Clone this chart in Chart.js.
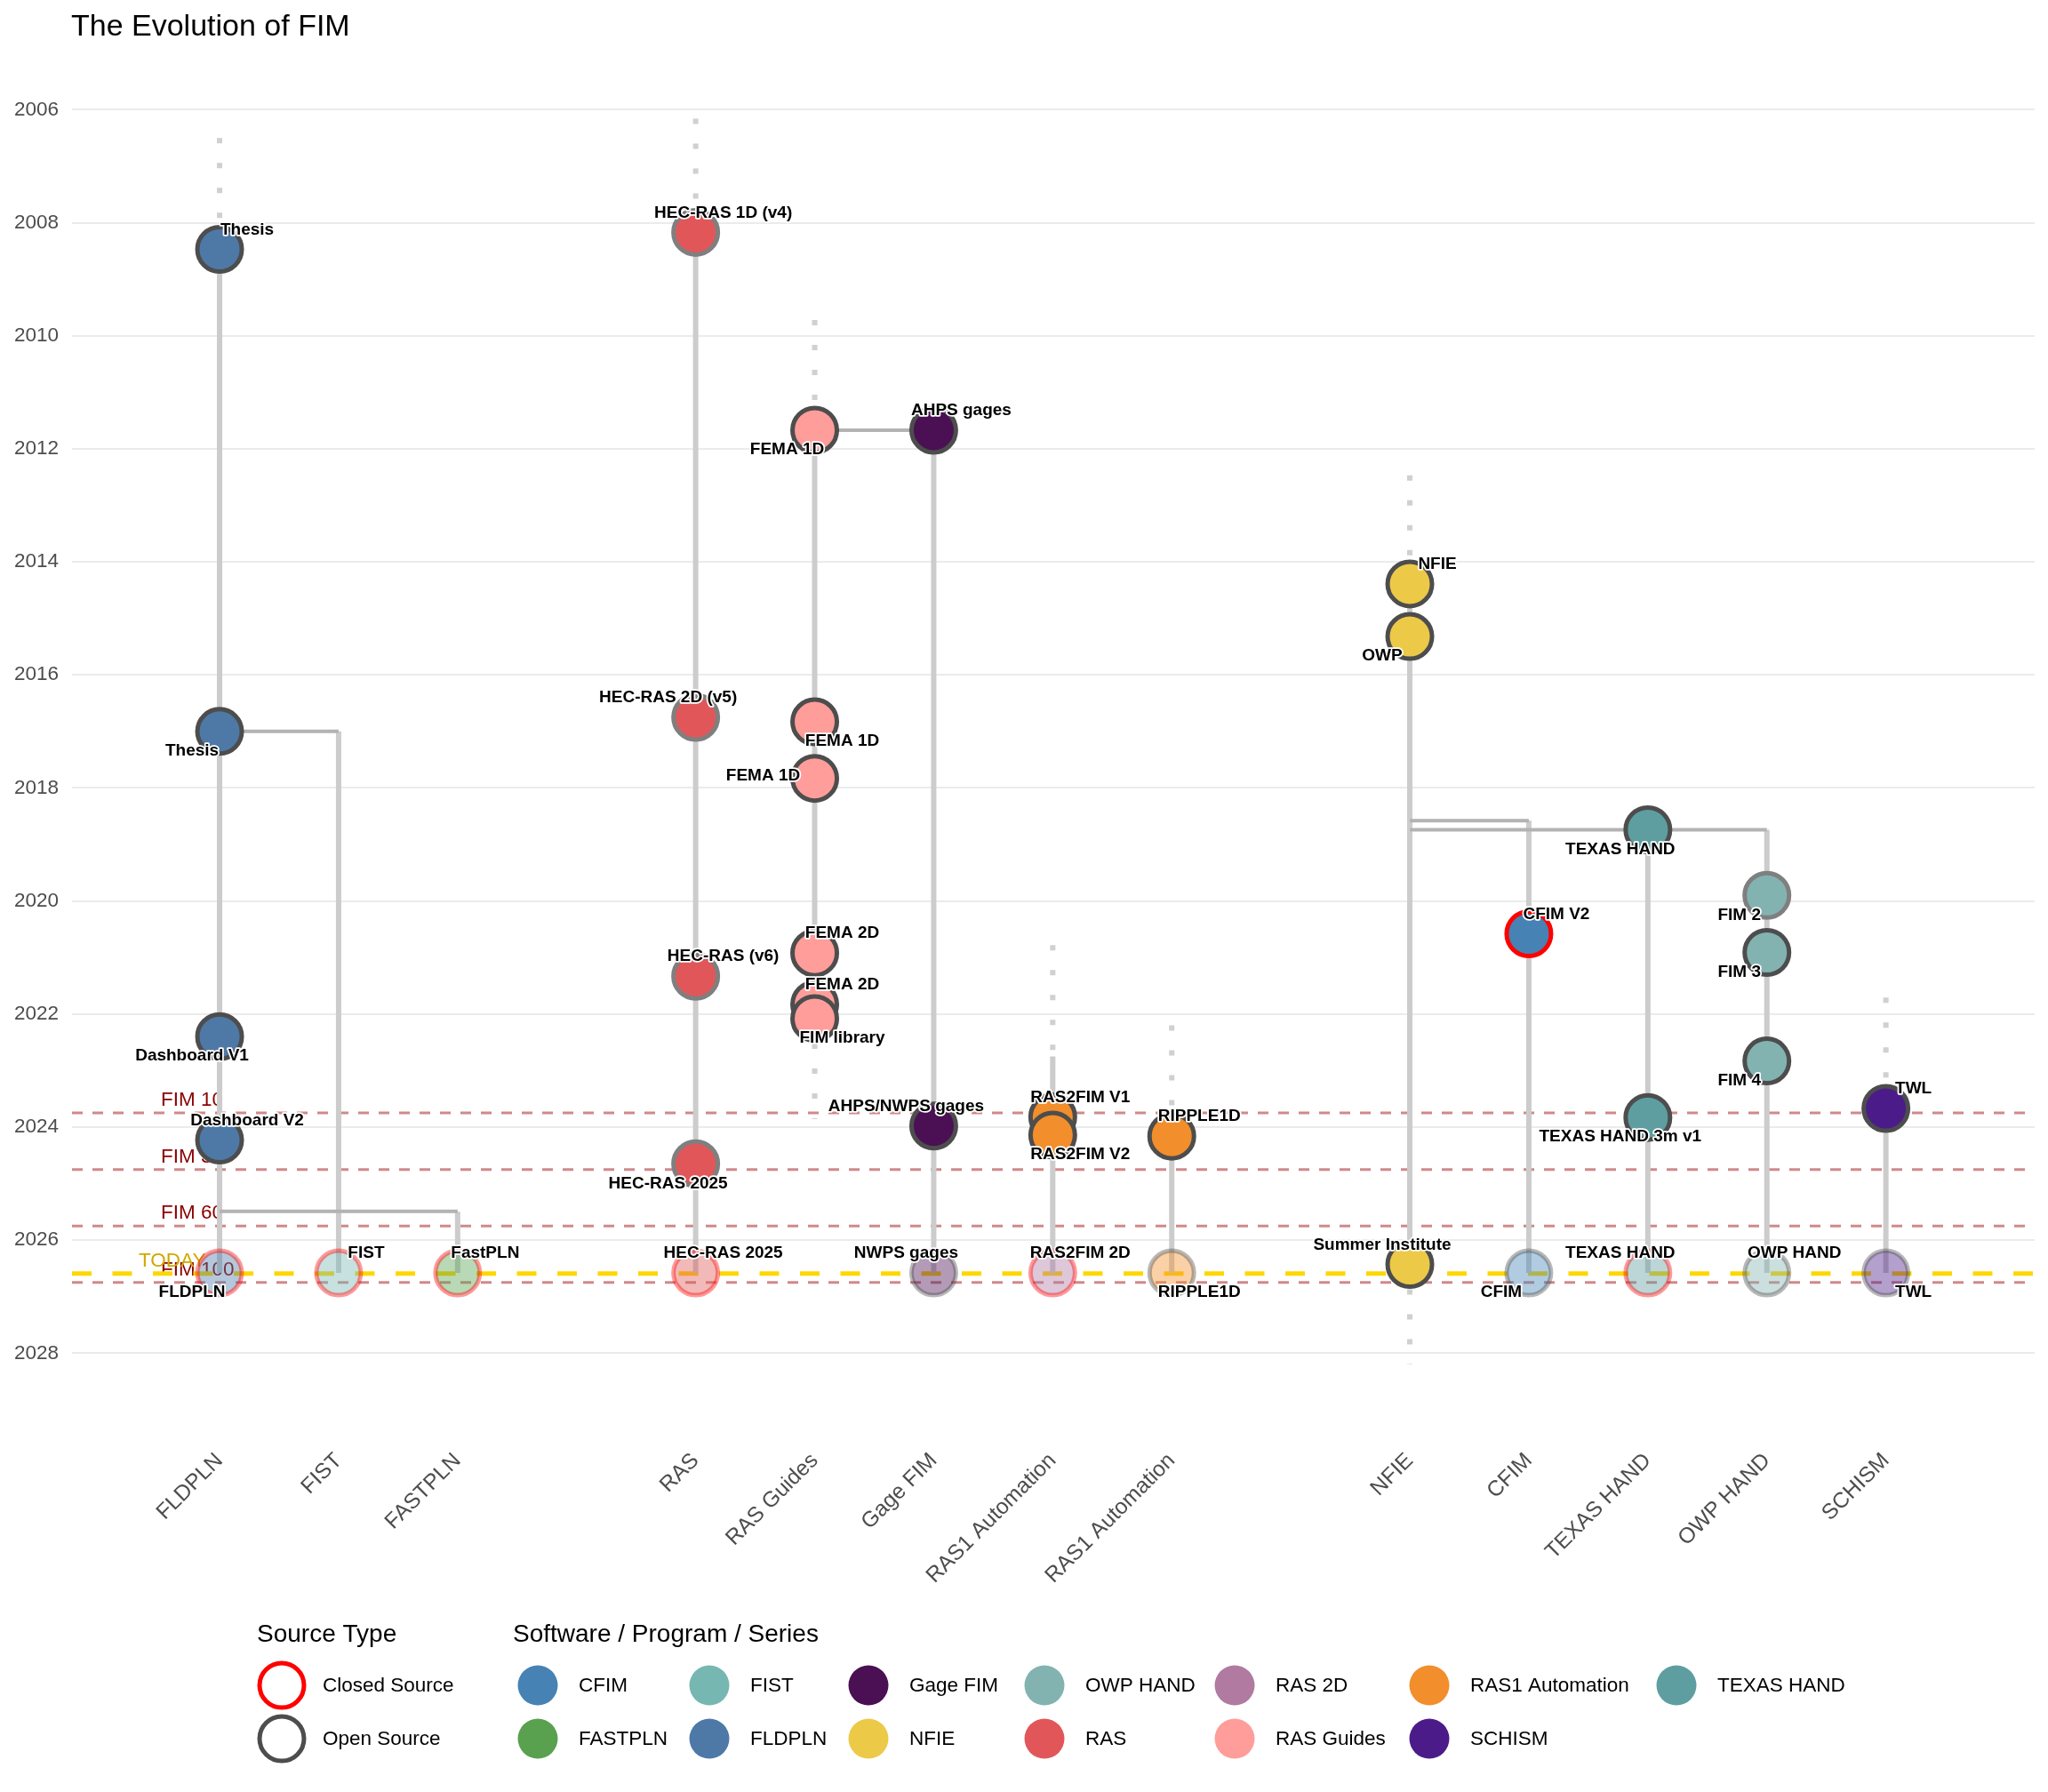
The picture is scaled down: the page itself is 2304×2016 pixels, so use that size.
<!DOCTYPE html>
<html>
<head>
<meta charset="utf-8">
<title>The Evolution of FIM</title>
<script src="https://cdn.jsdelivr.net/npm/chart.js@4.4.1/dist/chart.umd.min.js"></script>
<style>
  html, body { margin: 0; padding: 0; background: #ffffff; overflow: hidden; }
  #wrap { width: 2304px; height: 2016px; }
  canvas { display: block; }
</style>
</head>
<body>
<div id="wrap"><canvas id="fimChart" width="2304" height="2016"></canvas></div>
<script>
// ---- values ----
var TODAY = 2026.59;

// x axis: one column per program line (gaps between families)
var columns = ['FLDPLN', 'FIST', 'FASTPLN', 'RAS', 'RAS Guides', 'Gage FIM', 'RAS1 Automation',
               'RAS1 Automation', 'NFIE', 'CFIM', 'TEXAS HAND', 'OWP HAND', 'SCHISM'];
var columnPos = [1, 2, 3, 5, 6, 7, 8, 9, 11, 12, 13, 14, 15];
var yearTicks = [2006, 2008, 2010, 2012, 2014, 2016, 2018, 2020, 2022, 2024, 2026, 2028];

// solid "active" stretch of each column
var activeFrom = [2008.47, 2017.0, 2025.5, 2008.17, 2011.67, 2011.67, 2022.75, 2024.16, 2014.39, 2018.58, 2018.74, 2018.74, 2023.67];
var activeTo   = [2026.58, 2026.58, 2026.58, 2026.58, 2022.08, 2026.58, 2026.58, 2026.58, 2026.43, 2026.58, 2026.58, 2026.58, 2026.58];

// dotted stretches (before / after a column is active)
var dottedCol  = [0, 3, 4, 4, 6, 7, 8, 8, 12];
var dottedFrom = [2006.5, 2006.16, 2009.72, 2022.08, 2020.78, 2022.2, 2012.47, 2026.43, 2021.71];
var dottedTo   = [2008.47, 2008.17, 2011.67, 2023.86, 2022.75, 2024.16, 2014.39, 2028.2, 2023.67];

// branch connectors (column index -> column index, at a year)
var linkFrom = [0, 0, 4, 8, 8, 10];
var linkTo   = [1, 2, 5, 9, 10, 11];
var linkYear = [2017.0, 2025.49, 2011.67, 2018.58, 2018.74, 2018.74];

// FIM version milestones
var fimNames = ['FIM 10', 'FIM 30', 'FIM 60', 'FIM 100'];
var fimYears = [2023.75, 2024.75, 2025.75, 2026.75];

// events
var eventCol = [0, 0, 0, 0, 0,
                1, 2,
                3, 3, 3, 3, 3,
                4, 4, 4, 4, 4, 4,
                5, 5, 5,
                6, 6, 6,
                7, 7,
                8, 8, 8,
                9, 9,
                10, 10, 10,
                11, 11, 11, 11,
                12, 12];
var eventYear = [2008.47, 2017.0, 2022.4, 2024.23, 2026.58,
                 2026.58, 2026.58,
                 2008.17, 2016.75, 2021.33, 2024.65, 2026.58,
                 2011.67, 2016.83, 2017.83, 2020.92, 2021.83, 2022.08,
                 2011.67, 2023.98, 2026.58,
                 2023.82, 2024.14, 2026.58,
                 2024.16, 2026.58,
                 2014.39, 2015.32, 2026.43,
                 2020.58, 2026.58,
                 2018.74, 2023.83, 2026.58,
                 2019.9, 2020.91, 2022.83, 2026.58,
                 2023.67, 2026.58];
var eventLabel = ['Thesis', 'Thesis', 'Dashboard V1', 'Dashboard V2', 'FLDPLN',
                  'FIST', 'FastPLN',
                  'HEC-RAS 1D (v4)', 'HEC-RAS 2D (v5)', 'HEC-RAS (v6)', 'HEC-RAS 2025', 'HEC-RAS 2025',
                  'FEMA 1D', 'FEMA 1D', 'FEMA 1D', 'FEMA 2D', 'FEMA 2D', 'FIM library',
                  'AHPS gages', 'AHPS/NWPS gages', 'NWPS gages',
                  'RAS2FIM V1', 'RAS2FIM V2', 'RAS2FIM 2D',
                  'RIPPLE1D', 'RIPPLE1D',
                  'NFIE', 'OWP', 'Summer Institute',
                  'CFIM V2', 'CFIM',
                  'TEXAS HAND', 'TEXAS HAND 3m v1', 'TEXAS HAND',
                  'FIM 2', 'FIM 3', 'FIM 4', 'OWP HAND',
                  'TWL', 'TWL'];
var eventSeries = ['FLDPLN', 'FLDPLN', 'FLDPLN', 'FLDPLN', 'FLDPLN',
                   'FIST', 'FASTPLN',
                   'RAS', 'RAS', 'RAS', 'RAS', 'RAS',
                   'RAS Guides', 'RAS Guides', 'RAS Guides', 'RAS Guides', 'RAS Guides', 'RAS Guides',
                   'Gage FIM', 'Gage FIM', 'Gage FIM',
                   'RAS1 Automation', 'RAS1 Automation', 'RAS 2D',
                   'RAS1 Automation', 'RAS1 Automation',
                   'NFIE', 'NFIE', 'NFIE',
                   'CFIM', 'CFIM',
                   'TEXAS HAND', 'TEXAS HAND', 'TEXAS HAND',
                   'OWP HAND', 'OWP HAND', 'OWP HAND', 'OWP HAND',
                   'SCHISM', 'SCHISM'];
var eventSource = ['Open', 'Open', 'Open', 'Open', 'Closed',
                   'Closed', 'Closed',
                   'Open', 'Open', 'Open', 'Open', 'Closed',
                   'Open', 'Open', 'Open', 'Open', 'Open', 'Open',
                   'Open', 'Open', 'Open',
                   'Open', 'Open', 'Closed',
                   'Open', 'Open',
                   'Open', 'Open', 'Open',
                   'Closed', 'Open',
                   'Open', 'Open', 'Closed',
                   'Open', 'Open', 'Open', 'Open',
                   'Open', 'Open'];
// current state markers (drawn faded on the "today" row)
var eventCurrent = [0, 0, 0, 0, 1,
                    1, 1,
                    0, 0, 0, 0, 1,
                    0, 0, 0, 0, 0, 0,
                    0, 0, 1,
                    0, 0, 1,
                    0, 1,
                    0, 0, 0,
                    0, 1,
                    0, 0, 1,
                    0, 0, 0, 1,
                    0, 1];

var seriesNames = ['CFIM', 'FASTPLN', 'FIST', 'FLDPLN', 'Gage FIM', 'NFIE', 'OWP HAND',
                   'RAS', 'RAS 2D', 'RAS Guides', 'RAS1 Automation', 'SCHISM', 'TEXAS HAND'];
var sourceNames = ['Closed Source', 'Open Source'];

// ---- styles ----
var seriesColors = ['#4682b4', '#59a14f', '#76b7b2', '#4e79a7', '#4a1053', '#edc948', '#83b3b1',
                    '#e15759', '#b07aa1', '#ff9d9a', '#f28e2b', '#4b1c89', '#5f9ea0'];
// label placement around each point
var labelSide = ['ne', 'sw', 'sw', 'ne', 'sw',
                 'ne', 'ne',
                 'ne', 'nw', 'ne', 'sw', 'ne',
                 'sw', 'se', 'w', 'ne', 'ne', 'se',
                 'ne', 'nw', 'nw',
                 'ne', 'se', 'ne',
                 'ne', 'se',
                 'ne', 'sw', 'nw',
                 'ne', 'sw',
                 'sw', 'sw', 'nw',
                 'sw', 'sw', 'sw', 'ne',
                 'ne', 'se'];
var softRing = [7, 8, 9, 10, 34];   // events drawn with a lighter grey ring
var sideOffset = { ne: [31, -22], nw: [-31, -22], se: [31, 22], sw: [-31, 22], w: [-58, -3] };
var FONT = '"Liberation Sans", Arial, Helvetica, sans-serif';

function fade(hex, a) {
    var r = parseInt(hex.slice(1, 3), 16), g = parseInt(hex.slice(3, 5), 16), b = parseInt(hex.slice(5, 7), 16);
    return 'rgba(' + r + ',' + g + ',' + b + ',' + a + ')';
}

function colorOf(series) {
    return seriesColors[seriesNames.indexOf(series)];
}

function segmentData(cols, from, to) {
    var d = [];
    cols.forEach(function(c, i) {
        d.push({ x: columnPos[c], y: from[i] }, { x: columnPos[c], y: to[i] }, { x: columnPos[c], y: null });
    });
    return d;
}

var linkData = [];
linkFrom.forEach(function(c, i) {
    linkData.push({ x: columnPos[c], y: linkYear[i] }, { x: columnPos[linkTo[i]], y: linkYear[i] }, { x: columnPos[c], y: null });
});

var pointFill = eventSeries.map(function(s, i) {
    return eventCurrent[i] ? fade(colorOf(s), 0.42) : colorOf(s);
});
var pointRing = eventSource.map(function(s, i) {
    var base = s === 'Closed' ? '#ff0000' : (softRing.indexOf(i) >= 0 ? '#7f7f7f' : '#4d4d4d');
    return eventCurrent[i] ? fade(base, 0.4) : base;
});

// milestone lines, TODAY line and their labels (under the timelines)
var milestonePlugin = {
    id: 'milestones',
    beforeDatasetsDraw: function(chart) {
        var ctx = chart.ctx, area = chart.chartArea, ys = chart.scales.y;
        ctx.save();
        ctx.font = '22.5px ' + FONT;
        ctx.textAlign = 'left';
        ctx.textBaseline = 'alphabetic';
        fimYears.forEach(function(yr, i) {
            var py = ys.getPixelForValue(yr);
            ctx.fillStyle = '#8b0000';
            ctx.fillText(fimNames[i], area.left + 100, py - 8);
            ctx.beginPath();
            ctx.setLineDash([12, 11]);
            ctx.lineWidth = 3;
            ctx.strokeStyle = 'rgba(170,40,40,0.55)';
            ctx.moveTo(area.left, py);
            ctx.lineTo(area.right, py);
            ctx.stroke();
        });
        var ty = ys.getPixelForValue(TODAY);
        ctx.fillStyle = '#d1a800';
        ctx.fillText('TODAY', area.left + 75, ty - 8);
        ctx.beginPath();
        ctx.setLineDash([22, 23.5]);
        ctx.lineWidth = 5;
        ctx.strokeStyle = '#ffd700';
        ctx.moveTo(area.left, ty);
        ctx.lineTo(area.right, ty);
        ctx.stroke();
        ctx.restore();
    }
};

// event text labels with a white halo
var eventLabelPlugin = {
    id: 'eventLabels',
    afterDatasetsDraw: function(chart) {
        var ctx = chart.ctx, xs = chart.scales.x, ys = chart.scales.y;
        ctx.save();
        ctx.font = 'bold 19px ' + FONT;
        ctx.textAlign = 'center';
        ctx.textBaseline = 'middle';
        ctx.lineJoin = 'round';
        eventLabel.forEach(function(t, i) {
            var off = sideOffset[labelSide[i]];
            var px = xs.getPixelForValue(columnPos[eventCol[i]]) + off[0];
            var py = ys.getPixelForValue(eventYear[i]) + off[1];
            ctx.lineWidth = 3.5;
            ctx.strokeStyle = '#ffffff';
            ctx.strokeText(t, px, py);
            ctx.fillStyle = '#000000';
            ctx.fillText(t, px, py);
        });
        ctx.restore();
    }
};

// title and the two legends
var framePlugin = {
    id: 'frame',
    afterDraw: function(chart) {
        var ctx = chart.ctx;
        ctx.save();
        ctx.fillStyle = '#000000';
        ctx.textAlign = 'left';
        ctx.textBaseline = 'alphabetic';
        ctx.font = '34px ' + FONT;
        ctx.fillText('The Evolution of FIM', 80, 40);

        ctx.font = '28px ' + FONT;
        ctx.fillText('Source Type', 289, 1847);
        ctx.fillText('Software / Program / Series', 577, 1847);

        var rowY = [1896, 1956];
        ctx.font = '22.5px ' + FONT;
        ctx.textBaseline = 'middle';
        sourceNames.forEach(function(name, r) {
            ctx.beginPath();
            ctx.arc(317, rowY[r], 25, 0, Math.PI * 2);
            ctx.fillStyle = '#ffffff';
            ctx.fill();
            ctx.lineWidth = 5;
            ctx.strokeStyle = r === 0 ? '#ff0000' : '#4d4d4d';
            ctx.stroke();
            ctx.fillStyle = '#000000';
            ctx.fillText(name, 363, rowY[r] + 1);
        });

        var colX = [605, 798, 977, 1175, 1389, 1608, 1886];
        seriesNames.forEach(function(name, i) {
            var c = Math.floor(i / 2), r = i % 2;
            ctx.beginPath();
            ctx.arc(colX[c], rowY[r], 22.5, 0, Math.PI * 2);
            ctx.fillStyle = seriesColors[i];
            ctx.fill();
            ctx.fillStyle = '#000000';
            ctx.fillText(name, colX[c] + 46, rowY[r] + 1);
        });
        ctx.restore();
    }
};

document.addEventListener("DOMContentLoaded", function() {
    var ctx = document.getElementById('fimChart').getContext('2d');
    var fimChart = new Chart(ctx, {
        type: 'scatter',
        data: {
            datasets: [{
                label: 'Events',
                order: 0,
                data: eventYear.map(function(y, i) { return { x: columnPos[eventCol[i]], y: y }; }),
                pointRadius: 25,
                pointHoverRadius: 25,
                pointBorderWidth: 5,
                pointBackgroundColor: pointFill,
                pointBorderColor: pointRing
            }, {
                label: 'Branches',
                order: 1,
                data: linkData,
                showLine: true,
                spanGaps: false,
                pointRadius: 0,
                borderColor: '#b3b3b3',
                borderWidth: 4
            }, {
                label: 'Active',
                order: 2,
                data: segmentData(columns.map(function(c, i) { return i; }), activeFrom, activeTo),
                showLine: true,
                spanGaps: false,
                pointRadius: 0,
                borderColor: '#cccccc',
                borderWidth: 6
            }, {
                label: 'Before / after',
                order: 3,
                data: segmentData(dottedCol, dottedFrom, dottedTo),
                showLine: true,
                spanGaps: false,
                pointRadius: 0,
                borderColor: '#d0d0d0',
                borderWidth: 6,
                borderDash: [6, 22],
                borderCapStyle: 'butt'
            }]
        },
        options: {
            responsive: false,
            animation: false,
            events: [],
            layout: { autoPadding: false, padding: { left: 0, right: 15, top: 63, bottom: 0 } },
            plugins: {
                legend: { display: false },
                title: { display: false },
                tooltip: { enabled: false }
            },
            scales: {
                x: {
                    type: 'linear',
                    min: -0.24,
                    max: 16.25,
                    grid: { display: false },
                    border: { display: false },
                    afterBuildTicks: function(scale) {
                        scale.ticks = columnPos.map(function(v) { return { value: v }; });
                    },
                    afterFit: function(scale) { scale.height = 411; },
                    ticks: {
                        autoSkip: false,
                        minRotation: 45,
                        maxRotation: 45,
                        padding: 16,
                        color: '#4d4d4d',
                        font: { family: FONT, size: 24.5 },
                        callback: function(value, index) { return columns[index]; }
                    }
                },
                y: {
                    type: 'linear',
                    reverse: true,
                    min: 2005.05,
                    max: 2029.3,
                    grid: { color: '#ebebeb', lineWidth: 2, drawTicks: false },
                    border: { display: false },
                    afterBuildTicks: function(scale) {
                        scale.ticks = yearTicks.map(function(v) { return { value: v }; });
                    },
                    afterFit: function(scale) { scale.width = 81; },
                    ticks: {
                        padding: 15,
                        color: '#4d4d4d',
                        font: { family: FONT, size: 22.5 },
                        callback: function(value) { return String(value); }
                    }
                }
            }
        },
        plugins: [milestonePlugin, eventLabelPlugin, framePlugin]
    });
});
</script>
</body>
</html>
